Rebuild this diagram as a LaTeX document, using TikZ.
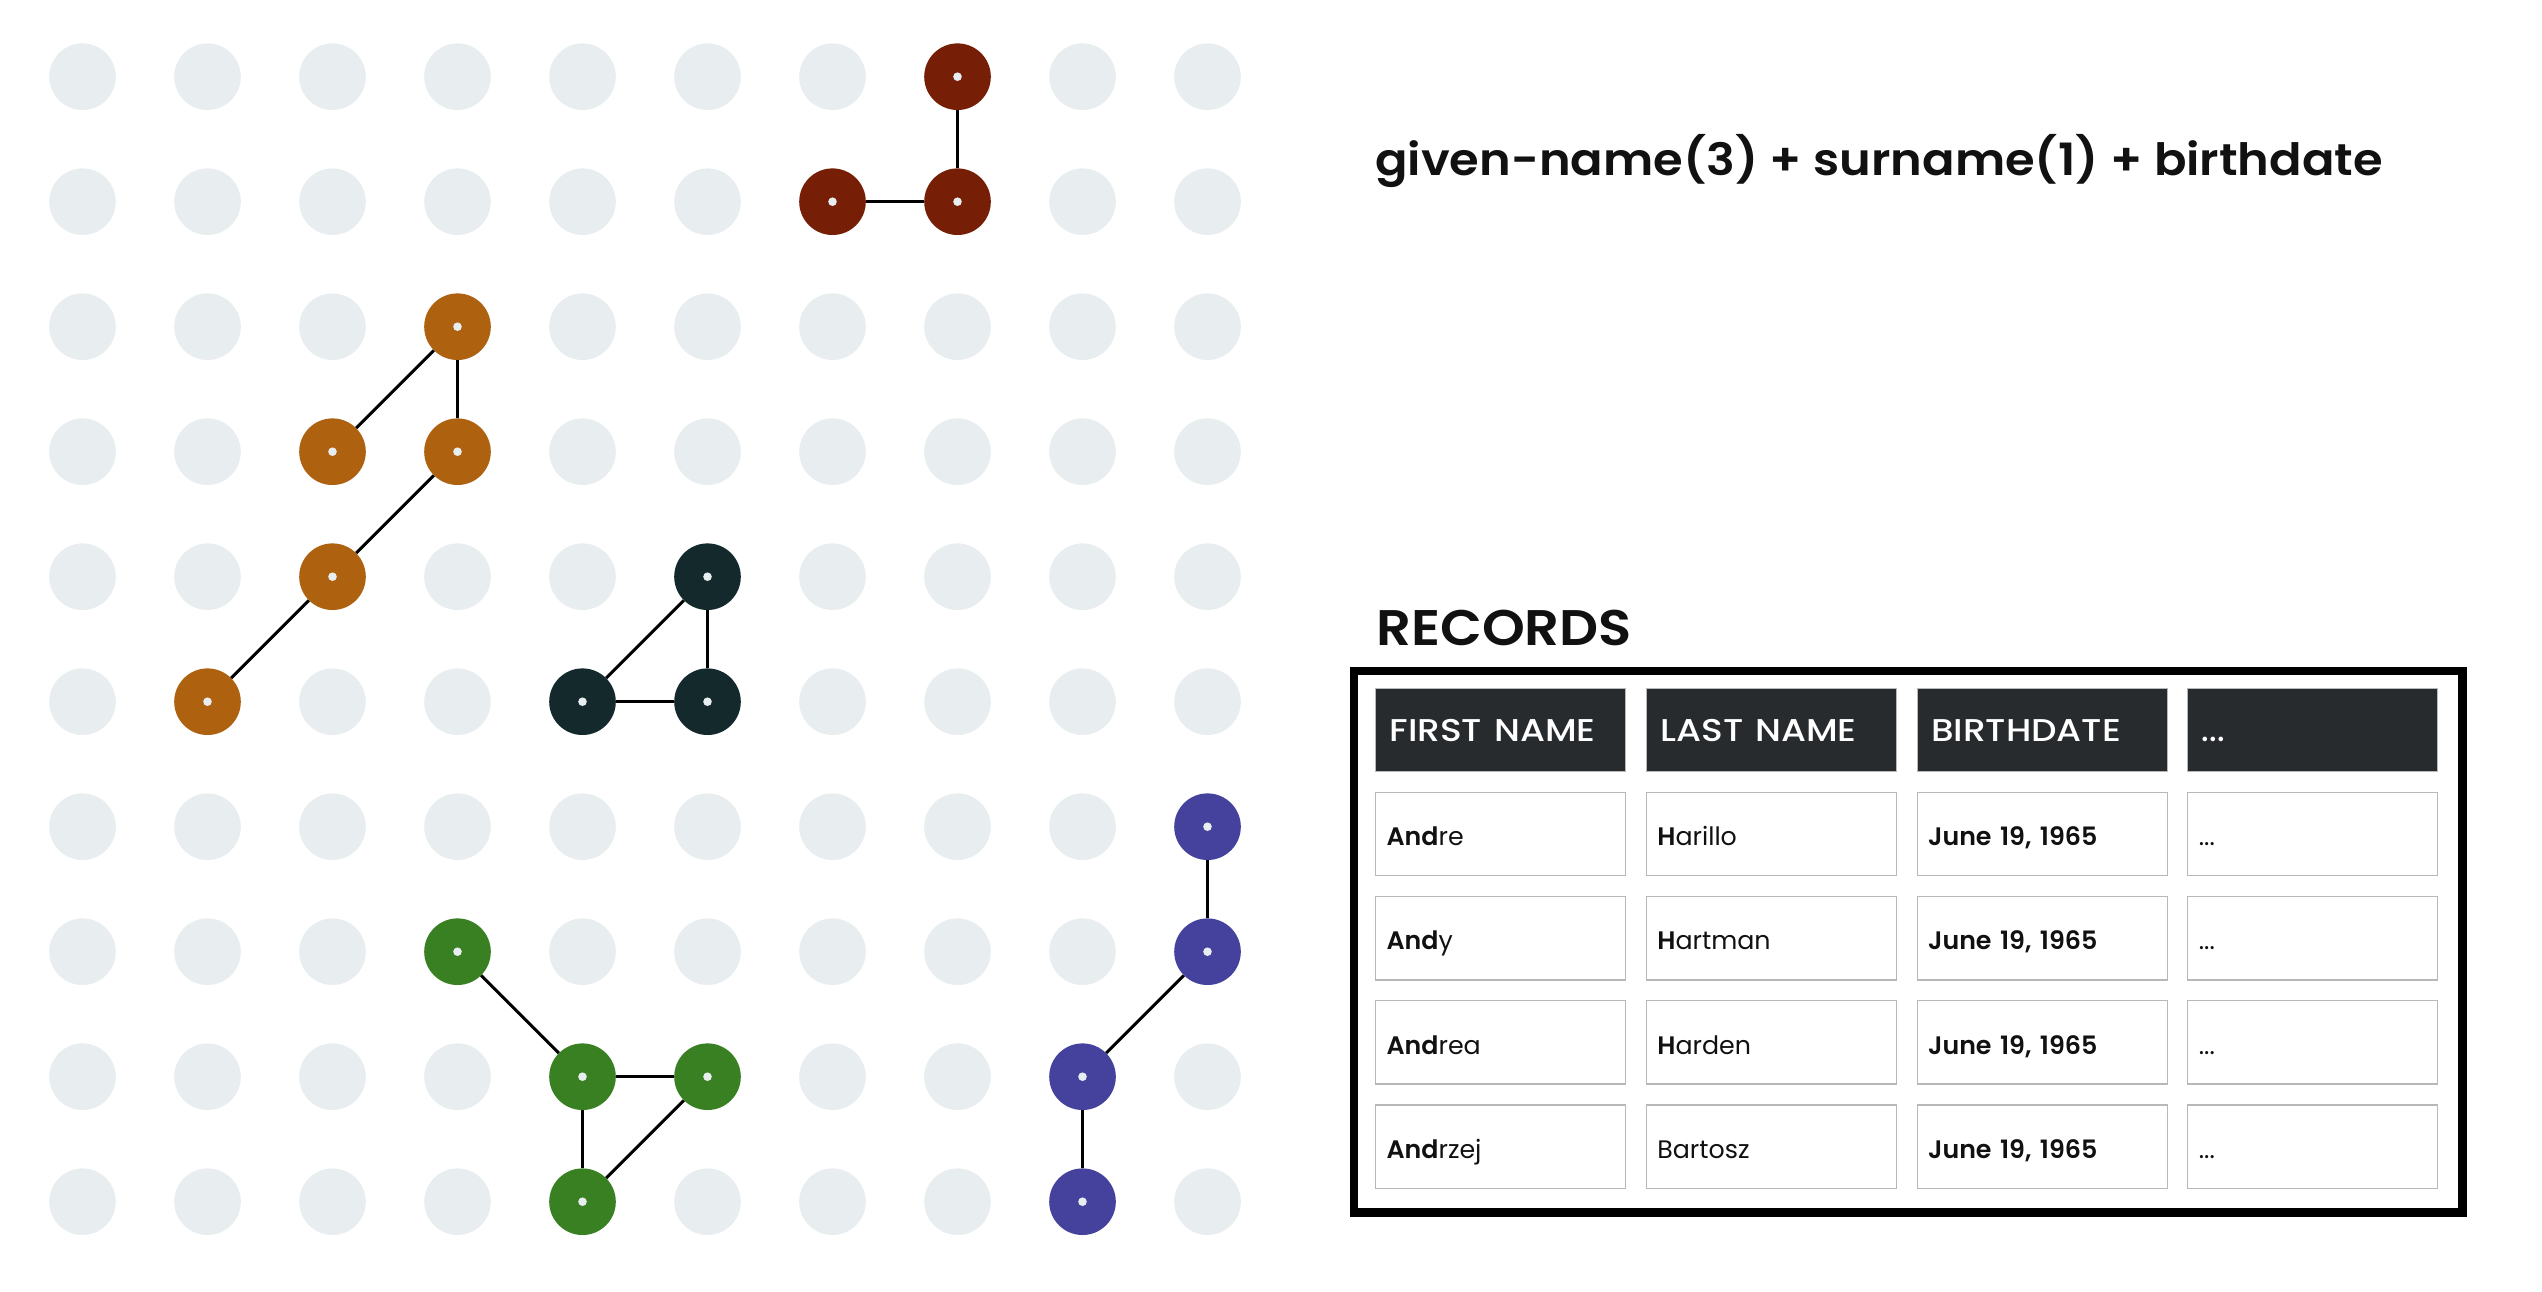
\documentclass[tikz,border=0pt]{standalone}
\usepackage{graphicx}
\usepackage{fontspec}
\setmainfont{Poppins}
\newfontfamily\fmed{Poppins Medium}
\newfontfamily\fsemi{Poppins SemiBold}
\newcommand{\hwide}[2]{\scalebox{#1}[1]{#2}}
\definecolor{dotgray}{HTML}{E8EDEF}
\definecolor{cred}{HTML}{771F06}
\definecolor{corange}{HTML}{AE6210}
\definecolor{cdark}{HTML}{13292C}
\definecolor{cgreen}{HTML}{388022}
\definecolor{cblue}{HTML}{44429C}
\definecolor{hdr}{HTML}{282B2E}
\definecolor{cellline}{HTML}{B8B8B8}
\definecolor{ink}{HTML}{111111}
\tikzset{
  gdot/.style={circle, fill=dotgray, minimum size=66.6, inner sep=0},
  cdot/.style={circle, fill=#1, minimum size=66.6, inner sep=0,
    path picture={\fill[dotgray] (path picture bounding box.center) circle (4.3);}},
  conn/.style={line width=3, black},
  hcell/.style={anchor=north west, fill=hdr, draw=cellline, line width=1.2,
    minimum width=250, minimum height=83.3, text width=222, inner xsep=14, inner ysep=0,
    align=left, text height=22.7, text depth=0, text=white,
    font=\fmed\fontsize{31.5}{32}\selectfont},
  rcell/.style={anchor=north west, fill=white, draw=cellline, line width=1.2,
    minimum width=250, minimum height=83.3, text width=228, inner xsep=11, inner ysep=0,
    align=left, text height=23.4, text depth=0, text=ink,
    font=\fontsize{25.3}{26}\selectfont},
}
\begin{document}
\begin{tikzpicture}[x=1pt,y=1pt]
\useasboundingbox (0,-1292) rectangle (2542,0);
% grid
\foreach \i in {0,...,9}{
  \foreach \j in {0,...,9}{
    \node[gdot] (g-\i-\j) at ({82.5+125*\i},{-76.7-125*\j}) {};
  }
}
% red
\node[cdot=cred] (r1) at (g-7-0) {};
\node[cdot=cred] (r2) at (g-6-1) {};
\node[cdot=cred] (r3) at (g-7-1) {};
\draw[conn] (r1) -- (r3);
\draw[conn] (r2) -- (r3);
% orange
\node[cdot=corange] (o1) at (g-3-2) {};
\node[cdot=corange] (o2) at (g-2-3) {};
\node[cdot=corange] (o3) at (g-3-3) {};
\node[cdot=corange] (o4) at (g-2-4) {};
\node[cdot=corange] (o5) at (g-1-5) {};
\draw[conn] (o1) -- (o2);
\draw[conn] (o1) -- (o3);
\draw[conn] (o3) -- (o4);
\draw[conn] (o4) -- (o5);
% dark
\node[cdot=cdark] (d1) at (g-5-4) {};
\node[cdot=cdark] (d2) at (g-4-5) {};
\node[cdot=cdark] (d3) at (g-5-5) {};
\draw[conn] (d1) -- (d2);
\draw[conn] (d1) -- (d3);
\draw[conn] (d2) -- (d3);
% green
\node[cdot=cgreen] (e1) at (g-3-7) {};
\node[cdot=cgreen] (e2) at (g-4-8) {};
\node[cdot=cgreen] (e3) at (g-5-8) {};
\node[cdot=cgreen] (e4) at (g-4-9) {};
\draw[conn] (e1) -- (e2);
\draw[conn] (e2) -- (e3);
\draw[conn] (e2) -- (e4);
\draw[conn] (e3) -- (e4);
% blue
\node[cdot=cblue] (b1) at (g-9-6) {};
\node[cdot=cblue] (b2) at (g-9-7) {};
\node[cdot=cblue] (b3) at (g-8-8) {};
\node[cdot=cblue] (b4) at (g-8-9) {};
\draw[conn] (b1) -- (b2);
\draw[conn] (b2) -- (b3);
\draw[conn] (b3) -- (b4);
% title
\node[anchor=base west, inner sep=0, text=ink, font=\fsemi\fontsize{44.5}{50}\selectfont]
  (title) at (1375,-175.7) {\hwide{1.078}{given-name(3) + surname(1) + birthdate}};
\node[anchor=base west, inner sep=0, text=ink, font=\fsemi\fontsize{50}{55}\selectfont]
  (rec) at (1376,-645) {\hwide{1.09}{RECORDS}};
% frame
\node[draw=black, line width=8.3, minimum width=1108.7, minimum height=541.5,
  anchor=north west, inner sep=0] (frame) at (1349.5,-666.7) {};
% header
\node[hcell] (h1) at (1375,-687.7) {\hwide{1.14}{FIRST NAME}};
\node[hcell] (h2) at (1645.75,-687.7) {\hwide{1.14}{LAST NAME}};
\node[hcell] (h3) at (1916.5,-687.7) {\hwide{1.14}{BIRTHDATE}};
\node[hcell] (h4) at (2187.25,-687.7) {...};
% rows
\node[rcell] (c11) at (1375,-791.85) {{\fsemi And}re};
\node[rcell] (c12) at (1645.75,-791.85) {{\fsemi H}arillo};
\node[rcell] (c13) at (1916.5,-791.85) {{\fsemi June 19, 1965}};
\node[rcell] (c14) at (2187.25,-791.85) {...};
\node[rcell] (c21) at (1375,-896) {{\fsemi And}y};
\node[rcell] (c22) at (1645.75,-896) {{\fsemi H}artman};
\node[rcell] (c23) at (1916.5,-896) {{\fsemi June 19, 1965}};
\node[rcell] (c24) at (2187.25,-896) {...};
\node[rcell] (c31) at (1375,-1000.15) {{\fsemi And}rea};
\node[rcell] (c32) at (1645.75,-1000.15) {{\fsemi H}arden};
\node[rcell] (c33) at (1916.5,-1000.15) {{\fsemi June 19, 1965}};
\node[rcell] (c34) at (2187.25,-1000.15) {...};
\node[rcell] (c41) at (1375,-1104.3) {{\fsemi And}rzej};
\node[rcell] (c42) at (1645.75,-1104.3) {Bartosz};
\node[rcell] (c43) at (1916.5,-1104.3) {{\fsemi June 19, 1965}};
\node[rcell] (c44) at (2187.25,-1104.3) {...};
\end{tikzpicture}
\end{document}
